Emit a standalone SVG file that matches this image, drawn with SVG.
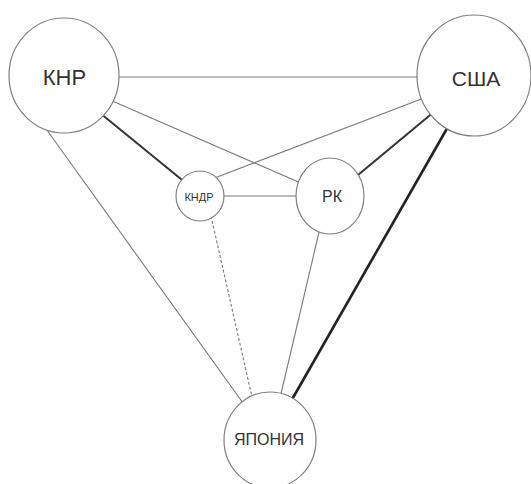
<svg xmlns="http://www.w3.org/2000/svg" width="531" height="484" viewBox="0 0 531 484">
<style>
.n{fill:#fff;stroke:#808080;stroke-width:1.2}
.t{font-family:"Liberation Sans",Arial,sans-serif;fill:#333;text-anchor:middle}
.thin{stroke:#7a7a7a;stroke-width:1.1;fill:none}
.thick{stroke:#333;stroke-width:2;fill:none}
.vthick{stroke:#222;stroke-width:2.6;fill:none}
.dash{stroke:#7a7a7a;stroke-width:1.1;stroke-dasharray:3,2;fill:none}
</style>
<rect width="531" height="484" fill="#fff"/>
<g id="connectors">
<line class="thin" x1="112" y1="77" x2="423" y2="77"/>
<line class="thick" x1="100" y1="113" x2="187" y2="184"/>
<line class="thin" x1="110" y1="100" x2="303" y2="184"/>
<line class="thin" x1="424" y1="98" x2="212" y2="179"/>
<line class="thick" x1="435" y1="111" x2="358" y2="175"/>
<line class="vthick" x1="449" y1="125" x2="290" y2="403"/>
<line class="thin" x1="218" y1="196" x2="304" y2="196"/>
<line class="dash" x1="211" y1="216" x2="252" y2="397"/>
<line class="thin" x1="320" y1="228" x2="280" y2="398"/>
<line class="thin" x1="44" y1="126" x2="243" y2="403"/>
</g>
<g id="knr"><ellipse class="n" cx="64" cy="75.5" rx="55" ry="57.5"/><text class="t" x="64.5" y="85" font-size="22">КНР</text></g>
<g id="usa"><ellipse class="n" cx="474" cy="75.5" rx="57" ry="60.5"/><text class="t" x="476" y="86" font-size="21">США</text></g>
<g id="kndr"><ellipse class="n" cx="200" cy="196" rx="24" ry="25"/><text class="t" x="199" y="201" font-size="11">КНДР</text></g>
<g id="rk"><ellipse class="n" cx="330" cy="196" rx="34" ry="38"/><text class="t" x="332" y="202" font-size="16">РК</text></g>
<g id="japan"><ellipse class="n" cx="270" cy="440" rx="46" ry="48"/><text class="t" x="269" y="445" font-size="16">ЯПОНИЯ</text></g>
</svg>
